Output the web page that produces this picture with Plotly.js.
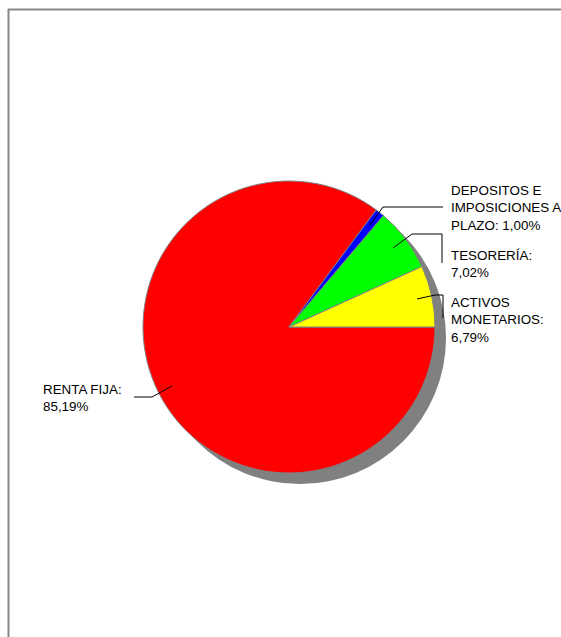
<!DOCTYPE html>
<html>
<head>
<meta charset="utf-8">
<script src="https://cdn.plot.ly/plotly-3.0.1.min.js"></script>
<style>html,body{margin:0;padding:0;background:#fff;}#chart{width:561px;height:637px;}</style>
</head>
<body>
<div id="chart"></div>
<script>
var categories = ['RENTA FIJA', 'DEPOSITOS E IMPOSICIONES A PLAZO', 'TESORERÍA', 'ACTIVOS MONETARIOS'];
var values = [85.19, 1.00, 7.02, 6.79];
var colors = ['#FF0000', '#0000FF', '#00FF00', '#FFFF00'];

var W = 561, H = 637;
function px(x) { return x / W; }
function py(y) { return 1 - y / H; }

function wrap(text, maxLen) {
  var words = text.split(' '), lines = [], cur = '';
  words.forEach(function (w) {
    if (cur === '') cur = w;
    else if ((cur + ' ' + w).length <= maxLen) cur += ' ' + w;
    else { lines.push(cur); cur = w; }
  });
  if (cur) lines.push(cur);
  return lines.join('<br>');
}
function fmt(v) { return v.toFixed(2).replace('.', ',') + '%'; }

var cx = 289, cy = 327, r = 146, sh = 11;

var shadow = {
  type: 'pie', values: [1], labels: ['shadow'], sort: false,
  marker: { colors: ['#808080'], line: { width: 0 } },
  textinfo: 'none', hoverinfo: 'skip', showlegend: false,
  domain: { x: [px(cx + sh - r), px(cx + sh + r)], y: [py(cy + sh + r), py(cy + sh - r)] }
};
var pie = {
  type: 'pie', values: values, labels: categories, sort: false,
  direction: 'clockwise', rotation: 90,
  marker: { colors: colors, line: { color: '#808080', width: 1 } },
  textinfo: 'none', hoverinfo: 'label+value', showlegend: false,
  domain: { x: [px(cx - r), px(cx + r)], y: [py(cy + r), py(cy - r)] }
};

// label placement (pixels): [x, yCenter]
var labelPos = [[41, 398], [449, 208], [449, 264], [449, 320]];
// leader polylines (pixels)
var leaders = [
  [[172, 386], [152, 397], [134, 397]],
  [[370, 225], [383, 207], [443, 207]],
  [[393, 248], [412, 234], [442, 234], [442, 263]],
  [[417, 299], [435, 295], [443, 295], [443, 318]]
];

var annotations = categories.map(function (c, i) {
  return {
    text: wrap(c + ': ' + fmt(values[i]), 14),
    x: px(labelPos[i][0]), y: py(labelPos[i][1]), xref: 'paper', yref: 'paper',
    xanchor: 'left', yanchor: 'middle', align: 'left', showarrow: false,
    font: { family: 'Liberation Sans, Arial, sans-serif', size: 13.4, color: '#000' }
  };
});

var shapes = leaders.map(function (pts) {
  var d = pts.map(function (p, j) { return (j ? 'L' : 'M') + px(p[0]) + ',' + py(p[1]); }).join(' ');
  return { type: 'path', path: d, xref: 'paper', yref: 'paper', line: { color: '#000', width: 1 } };
});
// frame
shapes.push({ type: 'line', xref: 'paper', yref: 'paper', x0: px(8), x1: px(561), y0: py(9.5), y1: py(9.5), line: { color: '#888', width: 2 } });
shapes.push({ type: 'line', xref: 'paper', yref: 'paper', x0: px(8.5), x1: px(8.5), y0: py(9), y1: py(637), line: { color: '#888', width: 2 } });

var layout = {
  width: W, height: H,
  margin: { l: 0, r: 0, t: 0, b: 0 },
  paper_bgcolor: '#fff',
  annotations: annotations,
  shapes: shapes,
  font: { family: 'Liberation Sans, Arial, sans-serif' }
};
Plotly.newPlot('chart', [shadow, pie], layout, { displayModeBar: false, staticPlot: true });
</script>
</body>
</html>
